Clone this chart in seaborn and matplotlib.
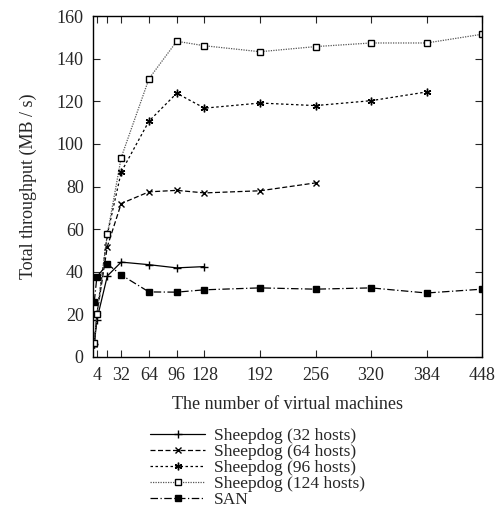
import matplotlib
matplotlib.use("Agg")
import matplotlib.pyplot as plt
import seaborn as sns
import pandas as pd

# ---------------------------------------------------------
# Daten
# ---------------------------------------------------------
x_32 = [1, 4, 16, 32, 64, 96, 128]
y_32 = [6, 17.5, 38, 44.5, 43.3, 41.8, 42.4]

x_64 = [1, 4, 16, 32, 64, 96, 128, 192, 256]
y_64 = [6, 20, 51.8, 72, 77.5, 78.2, 77, 78, 81.7]

x_96 = [1, 4, 16, 32, 64, 96, 128, 192, 256, 320, 384]
y_96 = [6, 20, 57.5, 86.8, 110.7, 123.8, 116.8, 119.2, 118, 120.3, 124.4]

x_124 = [1, 4, 16, 32, 64, 96, 128, 192, 256, 320, 384, 448]
y_124 = [6.5, 20, 57.5, 93.6, 130.6, 148.2, 146.1, 143.3, 145.7, 147.4, 147.4, 151.5]

x_san = [1, 4, 16, 32, 64, 96, 128, 192, 256, 320, 384, 448]
y_san = [26, 37.6, 43.6, 38.5, 30.5, 30.4, 31.5, 32.4, 31.8, 32.4, 30, 31.8]

labels = ["Sheepdog (32 hosts)", "Sheepdog (64 hosts)", "Sheepdog (96 hosts)",
          "Sheepdog (124 hosts)", "SAN"]

xticks = [4, 16, 32, 64, 96, 128, 192, 256, 320, 384, 448]
xticklabels = ["4", "", "32", "64", "96", "128", "192", "256", "320", "384", "448"]

# ---------------------------------------------------------
# Plot
# ---------------------------------------------------------
sns.set_style("ticks")
plt.rcParams["font.family"] = ["Liberation Serif", "DejaVu Serif"]

fig = plt.figure(figsize=(4.97, 5.21), dpi=100)
ax = fig.add_axes([0.188, 0.315, 0.782, 0.654])

series = [
    (x_32, y_32, dict(linestyle="-", marker="+", color="black",
                      markeredgecolor="black", markersize=6)),
    (x_64, y_64, dict(linestyle=(0, (4, 2)), marker="x", color="black",
                      markeredgecolor="black", markersize=4.5)),
    (x_96, y_96, dict(linestyle=(0, (2, 2)), marker=(6, 2, 0), color="black",
                      markeredgecolor="black", markersize=5.5)),
    (x_124, y_124, dict(linestyle=(0, (1, 1)), marker="s", color="#555555",
                        markerfacecolor="white", markeredgecolor="black", markersize=4.5)),
    (x_san, y_san, dict(linestyle=(0, (6, 2, 1, 2)), marker="s", color="black",
                        markeredgecolor="black", markersize=4.5)),
]

for (xs, ys, st), lab in zip(series, labels):
    df = pd.DataFrame({"x": xs, "y": ys})
    sns.lineplot(data=df, x="x", y="y", ax=ax, label=lab, linewidth=0.9,
                 markeredgewidth=1.0, **st)

ax.set_xlim(0, 448)
ax.set_ylim(0, 160)
ax.set_xticks(xticks)
ax.set_xticklabels(xticklabels)
ax.set_yticks(range(0, 161, 20))
ax.tick_params(direction="in", top=True, right=True, length=5, width=0.8,
               labelsize=13, pad=7)
for s in ax.spines.values():
    s.set_linewidth(1.0)
    s.set_color("black")

ax.set_xlabel("The number of virtual machines", fontsize=13, labelpad=9)
ax.set_ylabel("Total throughput (MB / s)", fontsize=13, labelpad=14)

handles, labs = ax.get_legend_handles_labels()
ax.get_legend().remove()
fig.legend(handles, labs, loc="upper left", bbox_to_anchor=(0.284, 0.196),
           frameon=False, fontsize=12.5, handlelength=3.2, handletextpad=0.5,
           labelspacing=0.0, borderpad=0)

fig.savefig("out.png", dpi=100)
